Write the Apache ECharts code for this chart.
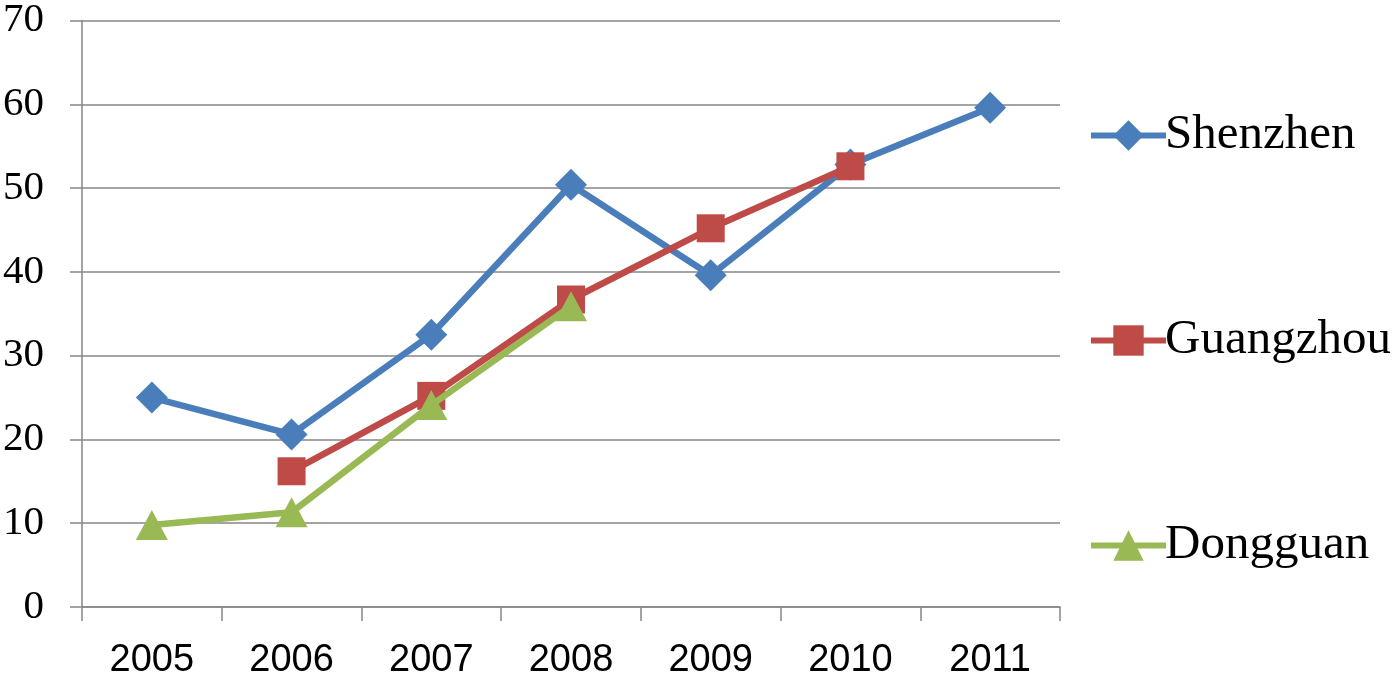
<!DOCTYPE html>
<html><head><meta charset="utf-8">
<script src="https://cdn.jsdelivr.net/npm/echarts@6/dist/echarts.min.js"></script>
<style>html,body{margin:0;padding:0;background:#fff}#c{width:1400px;height:680px}</style>
</head><body><div id="c"></div>
<script>
const categories = ['2005','2006','2007','2008','2009','2010','2011'];
const shenzhen = [25.0, 20.6, 32.5, 50.4, 39.6, 52.8, 59.6];
const guangzhou = [null, 16.2, 25.2, 36.7, 45.2, 52.6, null];
const dongguan = [9.8, 11.3, 24.1, 35.9, null, null, null];
const yTicks = [0, 10, 20, 30, 40, 50, 60, 70];

const colors = {Shenzhen:'#4A7EBB', Guangzhou:'#BE4B48', Dongguan:'#98B954'};
const chart = echarts.init(document.getElementById('c'), null, {renderer:'canvas'});
function legend(name, top){
  return {
    data:[{name:name, lineStyle:{width:6}}], orient:'vertical', left:1083, top:top,
    itemWidth:75, itemHeight:38, itemGap:0,
    textStyle:{fontFamily:'Liberation Serif', fontSize:49, color:'#000', padding:[0,0,0,-6]},
    selectedMode:false
  };
}
chart.setOption({
  animation:false,
  grid:{left:82, right:340, top:20, bottom:71, containLabel:false},
  legend:[legend('Shenzhen',106), legend('Guangzhou',311), legend('Dongguan',516)],
  xAxis:{
    type:'category', data:categories, boundaryGap:true,
    axisLine:{lineStyle:{color:'#868686', width:1.5}},
    axisTick:{show:true, length:14, inside:false, lineStyle:{color:'#868686', width:1.5}},
    axisLabel:{fontFamily:'Liberation Sans', fontSize:38, color:'#000', margin:35},
    splitLine:{show:false}
  },
  yAxis:{
    type:'value', min:0, max:70, interval:10,
    axisLine:{show:true, lineStyle:{color:'#868686', width:1.5}},
    axisTick:{show:true, length:12, lineStyle:{color:'#868686', width:1.5}},
    axisLabel:{fontFamily:'Liberation Serif', fontSize:41, color:'#000', margin:38,
      formatter:v=>yTicks.includes(v)?String(v):''},
    splitLine:{show:true, lineStyle:{color:'#868686', width:1.5}}
  },
  series:[
    {name:'Shenzhen', type:'line', data:shenzhen, symbol:'diamond', symbolSize:[32,32],
      lineStyle:{color:colors.Shenzhen, width:6.5}, itemStyle:{color:colors.Shenzhen}, z:2},
    {name:'Guangzhou', type:'line', data:guangzhou, symbol:'rect', symbolSize:[28,28],
      lineStyle:{color:colors.Guangzhou, width:6.5}, itemStyle:{color:colors.Guangzhou}, z:3},
    {name:'Dongguan', type:'line', data:dongguan, symbol:'triangle', symbolSize:[32,30],
      lineStyle:{color:colors.Dongguan, width:6.5}, itemStyle:{color:colors.Dongguan}, z:4}
  ]
});
</script></body></html>
